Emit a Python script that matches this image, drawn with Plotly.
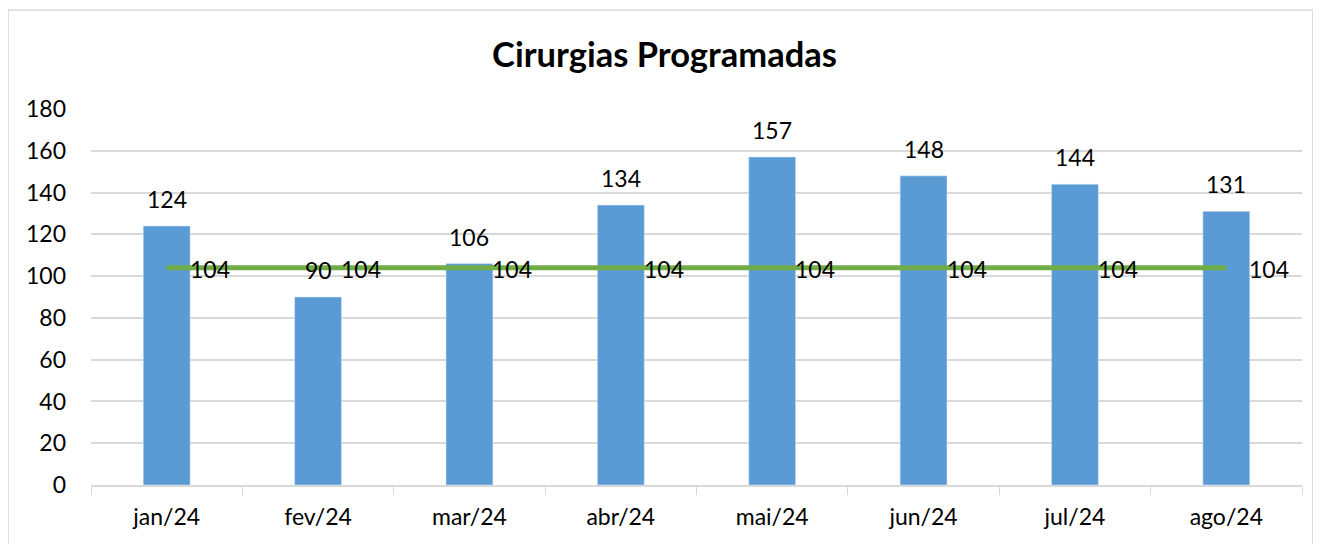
import plotly.graph_objects as go

categories = ["jan/24", "fev/24", "mar/24", "abr/24", "mai/24", "jun/24", "jul/24", "ago/24"]
cirurgias = [124, 90, 106, 134, 157, 148, 144, 131]
meta = [104, 104, 104, 104, 104, 104, 104, 104]

FONT = "Lato, Open Sans, sans-serif"
BLUE = "#5B9BD5"
GREEN = "#70AD47"
GRID = "#D9D9D9"
FS = 23

fig = go.Figure()
fig.add_trace(go.Bar(x=categories, y=cirurgias, marker_color=BLUE, width=0.31,
                     showlegend=False, hoverinfo="x+y"))
fig.add_trace(go.Scatter(x=categories, y=meta, mode="lines",
                         line=dict(color=GREEN, width=5), showlegend=False))

annotations = []
for c, v in zip(categories, cirurgias):
    annotations.append(dict(x=c, y=v, text=str(v), showarrow=False, xanchor="center",
                            yanchor="bottom", yshift=11, font=dict(size=FS, color="#000", family=FONT)))
for c, v in zip(categories, meta):
    annotations.append(dict(x=c, y=v, text=str(v), showarrow=False, xanchor="left",
                            yanchor="middle", xshift=21, yshift=-1, font=dict(size=FS, color="#000", family=FONT)))

fig.update_layout(
    width=1313, height=536,
    margin=dict(l=83, r=19, t=101, b=59),
    paper_bgcolor="white", plot_bgcolor="white",
    title=dict(text="<b>Cirurgias Programadas</b>", x=0.5, xanchor="center", y=0.912, yanchor="middle",
               font=dict(size=34.5, color="#000", family=FONT)),
    annotations=annotations,
    bargap=0.69,
    xaxis=dict(showline=True, linecolor=GRID, linewidth=1.5, ticks="outside", tickson="boundaries",
               ticklen=8, tickcolor=GRID, tickfont=dict(size=FS, color="#000", family=FONT),
               showgrid=False, ticklabelstandoff=11),
    yaxis=dict(range=[0, 180], dtick=20, showgrid=True, gridcolor=GRID, gridwidth=1.5,
               zeroline=False, tickfont=dict(size=FS, color="#000", family=FONT), ticks="",
               ticklabelstandoff=24),
    shapes=[dict(type="rect", xref="paper", yref="paper", x0=-0.0685, x1=1.009, y0=-0.25, y1=1.263,
                 line=dict(color=GRID, width=1.5), layer="below")],
)

fig.write_html("out.html")
